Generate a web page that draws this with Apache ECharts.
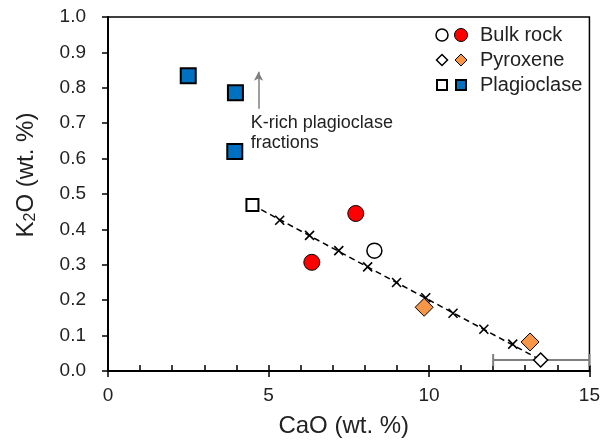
<!DOCTYPE html>
<html><head><meta charset="utf-8">
<script src="https://cdn.jsdelivr.net/npm/echarts@6/dist/echarts.min.js"></script>
<style>html,body{margin:0;padding:0;background:#fff}#c{width:603px;height:443px}</style>
</head><body><div id="c"></div>
<script>
// Data
const bulkOpen = [[8.3, 0.34]];
const bulkFilled = [[6.35, 0.307], [7.72, 0.445]];
const pyxOpen = [[13.48, 0.031]];
const pyxFilled = [[9.85, 0.18], [13.15, 0.082]];
const plagOpen = [[4.5, 0.469]];
const plagFilled = [[2.5, 0.834], [3.97, 0.786], [3.95, 0.62]];
const mixLine = [[4.5, 0.469], [13.48, 0.031]];
const mixCrosses = [[5.35,0.426],[6.28,0.383],[7.19,0.34],[8.09,0.294],[8.99,0.25],[9.9,0.207],[10.75,0.163],[11.71,0.118],[12.61,0.076]];
const errorBar = [[13.5, 0.031, 12, 15]]; // center x, y, low x, high x
const yTicks = ['0.0','0.1','0.2','0.3','0.4','0.5','0.6','0.7','0.8','0.9','1.0'];
const arrowFrom = [4.69, 0.741];
const arrowTo = [4.69, 0.845];
const noteAt = [4.45, 0.73];
const legendNames = ['Bulk rock', 'Pyroxene', 'Plagioclase'];

const FONT = 'Liberation Sans, Arial, sans-serif';
const TXT = '#222';
const chart = echarts.init(document.getElementById('c'));
const crossPath = 'path://M0,0L10,10M10,0L0,10';

chart.setOption({
  animation: false,
  grid: {left: 108, right: 11, top: 17, bottom: 71, show: true, borderColor: '#000', borderWidth: 1.5, backgroundColor: 'transparent'},
  xAxis: [{
    type: 'value', min: 0, max: 15, interval: 5,
    name: 'CaO (wt. %)', nameLocation: 'middle', nameGap: 43,
    nameTextStyle: {fontFamily: FONT, fontSize: 24, color: TXT, padding: [0, 10, 0, 0]},
    axisLine: {lineStyle: {color: '#000', width: 2}},
    axisTick: {show: true, inside: false, length: 6, lineStyle: {color: '#000', width: 1.5}},
    axisLabel: {fontFamily: FONT, fontSize: 19, color: TXT, margin: 15},
    splitLine: {show: false}
  }, {
    type: 'value', min: 0, max: 15, interval: 1, position: 'bottom',
    axisLine: {show: false},
    axisTick: {show: true, inside: true, length: 6, lineStyle: {color: '#000', width: 1.5}},
    axisLabel: {show: false}, splitLine: {show: false}
  }],
  yAxis: {
    type: 'value', min: 0, max: 1, interval: 0.1,
    name: '{a|K}{s|2}{a|O (wt. %)}', nameLocation: 'middle', nameGap: 69, nameRotate: 90,
    nameTextStyle: {padding: [0, 0, 0, 38], rich: {
      a: {fontFamily: FONT, fontSize: 24, color: TXT},
      s: {fontFamily: FONT, fontSize: 16, color: TXT, padding: [10, 0, 0, 0]}
    }},
    axisLine: {lineStyle: {color: '#000', width: 2}},
    axisTick: {show: true, inside: false, length: 6, lineStyle: {color: '#000', width: 1.5}},
    axisLabel: {fontFamily: FONT, fontSize: 19, color: TXT, margin: 22,
      formatter: (v) => yTicks[Math.round(v * 10)]},
    splitLine: {show: false}
  },
  series: [
    {type: 'custom', name: 'err', z: 2, data: errorBar,
      renderItem: (params, api) => {
        const lo = api.coord([api.value(2), api.value(1)]);
        const hi = api.coord([api.value(3), api.value(1)]);
        const h = 6;
        const st = {stroke: '#7f7f7f', lineWidth: 2};
        return {type: 'group', children: [
          {type: 'line', shape: {x1: lo[0], y1: lo[1], x2: hi[0], y2: hi[1]}, style: st},
          {type: 'line', shape: {x1: lo[0], y1: lo[1] - h, x2: lo[0], y2: lo[1] + h}, style: st},
          {type: 'line', shape: {x1: hi[0], y1: hi[1] - h, x2: hi[0], y2: hi[1] + h}, style: st}
        ]};
      }},
    {type: 'line', data: mixLine, symbol: 'none', z: 3,
      lineStyle: {color: '#000', width: 1.5, type: [6, 4]},
      markLine: {silent: true, symbol: ['none', 'arrow'], symbolSize: [7, 9],
        lineStyle: {color: '#7f7f7f', width: 1.5, type: 'solid'}, label: {show: false},
        data: [[{coord: arrowFrom}, {coord: arrowTo}]]}},
    {type: 'scatter', data: mixCrosses, symbol: crossPath, symbolSize: 9, z: 4,
      itemStyle: {color: 'none', borderColor: '#000', borderWidth: 1.6, opacity: 1}},
    {type: 'scatter', data: bulkOpen, symbol: 'circle', symbolSize: 15, z: 5,
      itemStyle: {color: '#fff', borderColor: '#000', borderWidth: 1.5, opacity: 1}},
    {type: 'scatter', data: bulkFilled, symbol: 'circle', symbolSize: 16, z: 5,
      itemStyle: {color: '#ff0000', borderColor: '#000', borderWidth: 1, opacity: 1}},
    {type: 'scatter', data: pyxOpen, symbol: 'diamond', symbolSize: 14, z: 5,
      itemStyle: {color: '#fff', borderColor: '#000', borderWidth: 1.5, opacity: 1}},
    {type: 'scatter', data: pyxFilled, symbol: 'diamond', symbolSize: 18, z: 5,
      itemStyle: {color: '#f79646', borderColor: '#000', borderWidth: 1, opacity: 1}},
    {type: 'scatter', data: plagOpen, symbol: 'rect', symbolSize: 12, z: 5,
      itemStyle: {color: '#fff', borderColor: '#000', borderWidth: 2, opacity: 1}},
    {type: 'scatter', data: plagFilled, symbol: 'rect', symbolSize: 15, z: 5,
      itemStyle: {color: '#0070c0', borderColor: '#000', borderWidth: 2, opacity: 1}}
  ]
});

const np = chart.convertToPixel({gridIndex: 0}, noteAt);
const lgX1 = 442, lgX2 = 461, lgT = 480, rows = [35, 60, 85];
chart.setOption({graphic: [
  {type: 'text', z: 100, style: {x: np[0], y: np[1], text: 'K-rich plagioclase\nfractions', font: '18px ' + FONT, fill: TXT, lineHeight: 20, verticalAlign: 'top'}},
  {type: 'circle', shape: {cx: lgX1, cy: rows[0], r: 6}, style: {fill: '#fff', stroke: '#000', lineWidth: 1.5}, z: 100},
  {type: 'circle', shape: {cx: lgX2, cy: rows[0], r: 6.5}, style: {fill: '#ff0000', stroke: '#000', lineWidth: 1}, z: 100},
  {type: 'polygon', shape: {points: [[lgX1, rows[1]-5.5],[lgX1+5.5, rows[1]],[lgX1, rows[1]+5.5],[lgX1-5.5, rows[1]]]}, style: {fill: '#fff', stroke: '#000', lineWidth: 1.5}, z: 100},
  {type: 'polygon', shape: {points: [[lgX2, rows[1]-6],[lgX2+6, rows[1]],[lgX2, rows[1]+6],[lgX2-6, rows[1]]]}, style: {fill: '#f79646', stroke: '#000', lineWidth: 1}, z: 100},
  {type: 'rect', shape: {x: lgX1-5, y: rows[2]-5, width: 10, height: 10}, style: {fill: '#fff', stroke: '#000', lineWidth: 2}, z: 100},
  {type: 'rect', shape: {x: lgX2-5, y: rows[2]-5, width: 10, height: 10}, style: {fill: '#0070c0', stroke: '#000', lineWidth: 2}, z: 100},
  ...legendNames.map((t, i) => ({type: 'text', z: 100,
    style: {x: lgT, y: rows[i], text: t, font: '20px ' + FONT, fill: TXT, verticalAlign: 'middle'}}))
]});
</script></body></html>
